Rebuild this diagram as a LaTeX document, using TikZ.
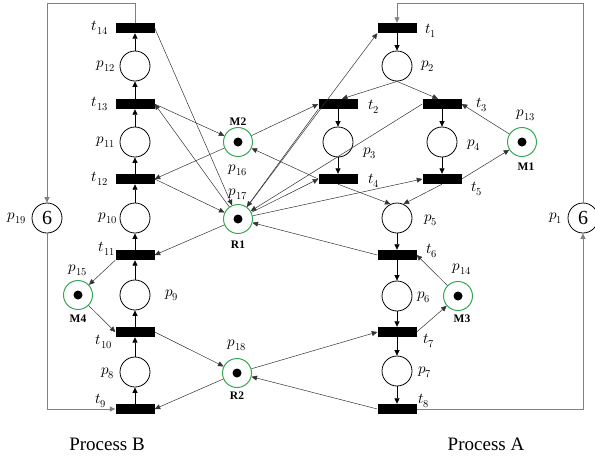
\documentclass[tikz,border=0pt]{standalone}
\usepackage{fontspec}
\usepackage{unicode-math}
\setmainfont{Liberation Serif}
\usetikzlibrary{arrows.meta}
\definecolor{resgreen}{RGB}{52,168,83}
\begin{document}
\begin{tikzpicture}[x=1pt,y=-1pt,
  trans/.style={rectangle,fill=black,minimum width=39pt,minimum height=10pt,inner sep=0pt},
  place/.style={circle,draw=black,line width=0.8pt,minimum size=30pt,inner sep=0pt},
  numplace/.style={place,font=\fontsize{20}{22}\selectfont},
  res/.style={circle,draw=resgreen,line width=1pt,minimum size=29pt,inner sep=0pt},
  lbl/.style={font=\fontsize{15}{17}\selectfont,inner sep=0pt},
  rlbl/.style={font=\fontsize{11.5}{13}\selectfont\bfseries,inner sep=0pt},
  ptitle/.style={font=\fontsize{19}{22}\selectfont,inner sep=0pt},
  tip/.style={-{Triangle[length=5.5pt,width=5pt]}},
  flow/.style={tip,line width=0.7pt,draw=black},
  arc/.style={tip,line width=0.5pt,draw=black!80},
  border/.style={tip,line width=0.8pt,draw=black!50}
]
\useasboundingbox (0,0) rectangle (595,459);

% ---------- Process B column ----------
\node[trans] (t14) at (135,28) {};
\node[place] (p12) at (135,66) {};
\node[trans] (t13) at (135,104) {};
\node[place] (p11) at (135,142) {};
\node[trans] (t12) at (135,179) {};
\node[place] (p10) at (135,218) {};
\node[trans] (t11) at (135,255) {};
\node[place] (p9) at (135,295) {};
\node[trans] (t10) at (135,332) {};
\node[place] (p8) at (135,372) {};
\node[trans] (t9) at (135,409) {};
\node[numplace] (p19) at (47,218) {6};
\node[res] (p15) at (78,295) {};

% ---------- shared resources ----------
\node[res] (p16) at (238,142) {};
\node[res] (p17) at (238,219) {};
\node[res] (p18) at (237,373) {};

% ---------- Process A column ----------
\node[trans] (t1) at (397,28) {};
\node[place] (p2) at (397,66) {};
\node[trans] (t2) at (338,104) {};
\node[trans] (t3) at (442,104) {};
\node[place] (p3) at (338,142) {};
\node[place] (p4) at (442,142) {};
\node[trans] (t4) at (338,179) {};
\node[trans] (t5) at (442,179) {};
\node[place] (p5) at (397,218) {};
\node[trans] (t6) at (397,255) {};
\node[place] (p6) at (397,296) {};
\node[trans] (t7) at (397,332) {};
\node[place] (p7) at (397,371) {};
\node[trans] (t8) at (397,409) {};
\node[res] (p13) at (522,142) {};
\node[res] (p14) at (458,296) {};
\node[numplace] (p1) at (583,218) {6};

% tokens
\foreach \r in {p13,p14,p15,p16,p17,p18} \fill (\r) circle[radius=4.5pt];

% ---------- labels ----------
\node[lbl] (lt14) at (100,28) {$t_{14}$};
\node[lbl] (lp12) at (106,66) {$p_{12}$};
\node[lbl] (lt13) at (100,104) {$t_{13}$};
\node[lbl] (lp11) at (106,142) {$p_{11}$};
\node[lbl] (lt12) at (100,179) {$t_{12}$};
\node[lbl] (lp10) at (108,218) {$p_{10}$};
\node[lbl] (lt11) at (107,249) {$t_{11}$};
\node[lbl] (lp9) at (172,295) {$p_{9}$};
\node[lbl] (lt10) at (104,342) {$t_{10}$};
\node[lbl] (lp8) at (108,373) {$p_{8}$};
\node[lbl] (lt9) at (101,401) {$t_{9}$};
\node[lbl] (lp19) at (17,218) {$p_{19}$};
\node[lbl] (lp15) at (78,270) {$p_{15}$};
\node[rlbl] (lM4) at (78,319) {M4};
\node[rlbl] (lM2) at (238,122) {M2};
\node[lbl] (lp16) at (238,170) {$p_{16}$};
\node[lbl] (lp17) at (238,194) {$p_{17}$};
\node[rlbl] (lR1) at (238,245) {R1};
\node[lbl] (lp18) at (237,345) {$p_{18}$};
\node[rlbl] (lR2) at (237,396) {R2};
\node[lbl] (lt1) at (431,31) {$t_{1}$};
\node[lbl] (lp2) at (428,66) {$p_{2}$};
\node[lbl] (lt2) at (374,107) {$t_{2}$};
\node[lbl] (lt3) at (482,105) {$t_{3}$};
\node[lbl] (lp3) at (370,153) {$p_{3}$};
\node[lbl] (lp4) at (474,145) {$p_{4}$};
\node[lbl] (lt4) at (374,181) {$t_{4}$};
\node[lbl] (lt5) at (477,189) {$t_{5}$};
\node[lbl] (lp5) at (431,220) {$p_{5}$};
\node[lbl] (lp1) at (556,218) {$p_{1}$};
\node[lbl] (lp13) at (526,115) {$p_{13}$};
\node[rlbl] (lM1) at (526,167) {M1};
\node[lbl] (lt6) at (432,251) {$t_{6}$};
\node[lbl] (lp14) at (462,269) {$p_{14}$};
\node[rlbl] (lM3) at (462,319) {M3};
\node[lbl] (lp6) at (424,297) {$p_{6}$};
\node[lbl] (lt7) at (429,341) {$t_{7}$};
\node[lbl] (lp7) at (425,372) {$p_{7}$};
\node[lbl] (lt8) at (424,401) {$t_{8}$};
\node[ptitle] (lB) at (107,444) {Process B};
\node[ptitle] (lA) at (486,444) {Process A};

% ---------- outer return loops ----------
\coordinate (cB) at (47,3);
\coordinate (cA) at (397,3);
\draw[border] (t14.north) |- (cB) -- (p19.north);
\draw[border] (p19.south) |- (t9.west);
\draw[border] (t8.east) -| (p1.south);
\draw[border] (p1.north) |- (cA) -- (t1.north);

% ---------- Process B flow ----------
\draw[flow] (t9) -- (p8);
\draw[flow] (p8) -- (t10);
\draw[flow] (t10) -- (p9);
\draw[flow] (p9) -- (t11);
\draw[flow] (t11) -- (p10);
\draw[flow] (p10) -- (t12);
\draw[flow] (t12) -- (p11);
\draw[flow] (p11) -- (t13);
\draw[flow] (t13) -- (p12);
\draw[flow] (p12) -- (t14);

% ---------- Process A flow ----------
\draw[flow] (t1) -- (p2);
\draw[arc] (p2.south) -- ([xshift=4pt]t2.north);
\draw[arc] (p2.south) -- ([xshift=-4pt]t3.north);
\draw[flow] (t2) -- (p3);
\draw[flow] (p3) -- (t4);
\draw[flow] (t3) -- (p4);
\draw[flow] (p4) -- (t5);
\draw[arc] (t4.south) -- (p5.115);
\draw[arc] (t5.south) -- (p5.65);
\draw[flow] (p5) -- (t6);
\draw[flow] (t6) -- (p6);
\draw[flow] (p6) -- (t7);
\draw[flow] (t7) -- (p7);
\draw[flow] (p7) -- (t8);

% ---------- resource arcs, Process B ----------
\draw[arc] (t14.east) -- (p17);
\draw[arc] (p17) -- (t13.east);
\draw[arc] (t13.east) -- (p16);
\draw[arc] (p16) -- (t12.east);
\draw[arc] (t12.east) -- (p17);
\draw[arc] (p17) -- (t11.east);
\draw[arc] (t11.south west) -- (p15);
\draw[arc] (p15) -- (t10.west);
\draw[arc] (t10.east) -- (p18);
\draw[arc] (p18) -- (t9.east);

% ---------- resource arcs, Process A ----------
\draw[arc] (p17) -- (t1.south west);
\draw[arc] (p16) -- (t2.west);
\draw[arc] (t2.south west) -- (p17);
\draw[arc] (t3.west) -- (p17);
\draw[arc] (p13) -- (t3.east);
\draw[arc] (p17) -- (t4.west);
\draw[arc] (t4.west) -- (p16);
\draw[arc] (p17) -- (t5.west);
\draw[arc] (t5.east) -- (p13);
\draw[arc] (t6.west) -- (p17);
\draw[arc] (p14) -- (t6.east);
\draw[arc] (t7.east) -- (p14);
\draw[arc] (p18) -- (t7.west);
\draw[arc] (t8.west) -- (p18);
\end{tikzpicture}
\end{document}
